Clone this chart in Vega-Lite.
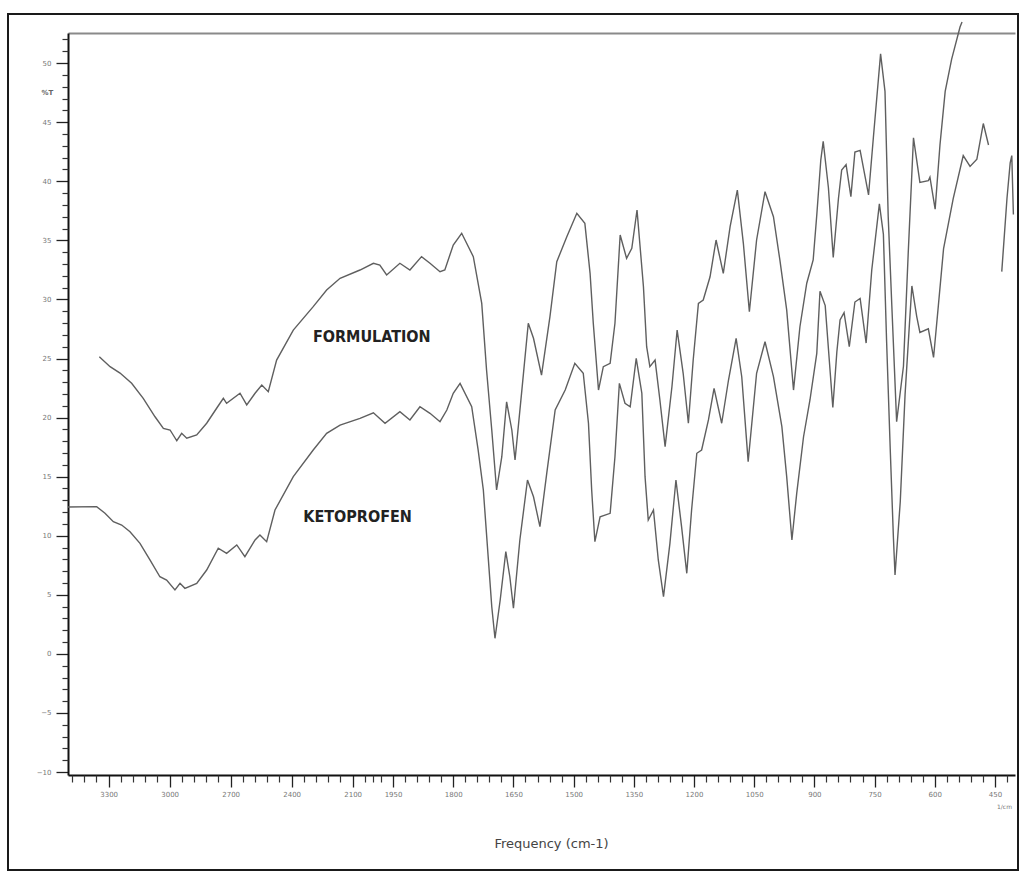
{
  "$schema": "https://vega.github.io/schema/vega-lite/v6.json",
  "width": 1010,
  "height": 856,
  "autosize": "none",
  "padding": {"left": 8, "top": 14, "right": 2, "bottom": 2},
  "background": "white",
  "config": {"view": {"stroke": "#1a1a1a", "strokeWidth": 2}},
  "datasets": {
    "spectra": [
      {"seg":"F1","wn":3346,"T":25.15},{"seg":"F1","wn":3293,"T":24.31},{"seg":"F1","wn":3244,"T":23.77},{"seg":"F1","wn":3187,"T":22.90},{"seg":"F1","wn":3130,"T":21.63},{"seg":"F1","wn":3072,"T":20.07},{"seg":"F1","wn":3031,"T":19.09},{"seg":"F1","wn":2998,"T":18.95},{"seg":"F1","wn":2965,"T":18.04},{"seg":"F1","wn":2941,"T":18.67},{"seg":"F1","wn":2916,"T":18.25},{"seg":"F1","wn":2867,"T":18.53},{"seg":"F1","wn":2818,"T":19.52},{"seg":"F1","wn":2769,"T":20.79},{"seg":"F1","wn":2736,"T":21.63},{"seg":"F1","wn":2720,"T":21.21},{"seg":"F1","wn":2654,"T":22.06},{"seg":"F1","wn":2621,"T":21.07},{"seg":"F1","wn":2580,"T":22.06},{"seg":"F1","wn":2547,"T":22.76},{"seg":"F1","wn":2515,"T":22.19},{"seg":"F1","wn":2474,"T":24.87},{"seg":"F1","wn":2392,"T":27.41},{"seg":"F1","wn":2294,"T":29.39},{"seg":"F1","wn":2228,"T":30.80},{"seg":"F1","wn":2162,"T":31.79},{"seg":"F1","wn":2064,"T":32.49},{"seg":"F1","wn":1999,"T":33.06},{"seg":"F1","wn":1983,"T":32.91},{"seg":"F1","wn":1966,"T":32.07},{"seg":"F1","wn":1933,"T":33.06},{"seg":"F1","wn":1908,"T":32.49},{"seg":"F1","wn":1879,"T":33.62},{"seg":"F1","wn":1858,"T":33.06},{"seg":"F1","wn":1833,"T":32.35},{"seg":"F1","wn":1821,"T":32.49},{"seg":"F1","wn":1800,"T":34.61},{"seg":"F1","wn":1779,"T":35.60},{"seg":"F1","wn":1750,"T":33.62},{"seg":"F1","wn":1729,"T":29.67},{"seg":"F1","wn":1717,"T":24.03},{"seg":"F1","wn":1704,"T":18.95},{"seg":"F1","wn":1692,"T":13.87},{"seg":"F1","wn":1679,"T":16.69},{"seg":"F1","wn":1667,"T":21.34},{"seg":"F1","wn":1654,"T":18.95},{"seg":"F1","wn":1646,"T":16.41},{"seg":"F1","wn":1629,"T":22.33},{"seg":"F1","wn":1613,"T":27.98},{"seg":"F1","wn":1600,"T":26.71},{"seg":"F1","wn":1580,"T":23.60},{"seg":"F1","wn":1559,"T":28.54},{"seg":"F1","wn":1542,"T":33.19},{"seg":"F1","wn":1517,"T":35.31},{"seg":"F1","wn":1492,"T":37.29},{"seg":"F1","wn":1472,"T":36.44},{"seg":"F1","wn":1459,"T":32.21},{"seg":"F1","wn":1451,"T":27.98},{"seg":"F1","wn":1438,"T":22.33},{"seg":"F1","wn":1426,"T":24.31},{"seg":"F1","wn":1409,"T":24.59},{"seg":"F1","wn":1397,"T":27.98},{"seg":"F1","wn":1384,"T":35.45},{"seg":"F1","wn":1368,"T":33.48},{"seg":"F1","wn":1355,"T":34.33},{"seg":"F1","wn":1342,"T":37.57},{"seg":"F1","wn":1326,"T":31.08},{"seg":"F1","wn":1318,"T":26.00},{"seg":"F1","wn":1310,"T":24.31},{"seg":"F1","wn":1297,"T":24.87},{"seg":"F1","wn":1285,"T":21.49},{"seg":"F1","wn":1272,"T":17.54},{"seg":"F1","wn":1255,"T":22.61},{"seg":"F1","wn":1242,"T":27.41},{"seg":"F1","wn":1227,"T":23.75},{"seg":"F1","wn":1214,"T":19.52},{"seg":"F1","wn":1202,"T":24.87},{"seg":"F1","wn":1189,"T":29.67},{"seg":"F1","wn":1177,"T":29.95},{"seg":"F1","wn":1160,"T":31.92},{"seg":"F1","wn":1145,"T":35.03},{"seg":"F1","wn":1127,"T":32.21},{"seg":"F1","wn":1110,"T":36.16},{"seg":"F1","wn":1092,"T":39.26},{"seg":"F1","wn":1077,"T":34.75},{"seg":"F1","wn":1062,"T":28.96},{"seg":"F1","wn":1044,"T":35.03},{"seg":"F1","wn":1023,"T":39.12},{"seg":"F1","wn":1002,"T":37.00},{"seg":"F1","wn":986,"T":33.34},{"seg":"F1","wn":969,"T":29.11},{"seg":"F1","wn":952,"T":22.33},{"seg":"F1","wn":936,"T":27.69},{"seg":"F1","wn":919,"T":31.37},{"seg":"F1","wn":903,"T":33.34},{"seg":"F1","wn":894,"T":37.15},{"seg":"F1","wn":884,"T":41.80},{"seg":"F1","wn":878,"T":43.38},{"seg":"F1","wn":865,"T":39.45},{"seg":"F1","wn":853,"T":33.56},{"seg":"F1","wn":840,"T":38.54},{"seg":"F1","wn":832,"T":40.95},{"seg":"F1","wn":821,"T":41.41},{"seg":"F1","wn":809,"T":38.70},{"seg":"F1","wn":799,"T":42.48},{"seg":"F1","wn":786,"T":42.62},{"seg":"F1","wn":765,"T":38.84},{"seg":"F1","wn":753,"T":43.68},{"seg":"F1","wn":735,"T":50.78},{"seg":"F1","wn":724,"T":47.61},{"seg":"F1","wn":716,"T":37.03},{"seg":"F1","wn":707,"T":29.48},{"seg":"F1","wn":695,"T":19.66},{"seg":"F1","wn":678,"T":24.34},{"seg":"F1","wn":666,"T":34.01},{"seg":"F1","wn":653,"T":43.68},{"seg":"F1","wn":637,"T":39.91},{"seg":"F1","wn":616,"T":40.05},{"seg":"F1","wn":612,"T":40.35},{"seg":"F1","wn":599,"T":37.64},{"seg":"F1","wn":587,"T":43.07},{"seg":"F1","wn":574,"T":47.61},{"seg":"F1","wn":558,"T":50.32},{"seg":"F1","wn":537,"T":53.05},{"seg":"F1","wn":532,"T":53.48},
      {"seg":"K1","wn":3500,"T":12.43},{"seg":"K1","wn":3359,"T":12.46},{"seg":"K1","wn":3318,"T":11.90},{"seg":"K1","wn":3277,"T":11.19},{"seg":"K1","wn":3236,"T":10.91},{"seg":"K1","wn":3195,"T":10.34},{"seg":"K1","wn":3146,"T":9.36},{"seg":"K1","wn":3097,"T":7.95},{"seg":"K1","wn":3048,"T":6.53},{"seg":"K1","wn":3015,"T":6.25},{"seg":"K1","wn":2974,"T":5.41},{"seg":"K1","wn":2949,"T":5.97},{"seg":"K1","wn":2925,"T":5.55},{"seg":"K1","wn":2867,"T":5.97},{"seg":"K1","wn":2818,"T":7.10},{"seg":"K1","wn":2761,"T":8.94},{"seg":"K1","wn":2720,"T":8.51},{"seg":"K1","wn":2670,"T":9.22},{"seg":"K1","wn":2630,"T":8.23},{"seg":"K1","wn":2580,"T":9.64},{"seg":"K1","wn":2556,"T":10.06},{"seg":"K1","wn":2523,"T":9.50},{"seg":"K1","wn":2482,"T":12.18},{"seg":"K1","wn":2392,"T":15.00},{"seg":"K1","wn":2294,"T":17.26},{"seg":"K1","wn":2228,"T":18.67},{"seg":"K1","wn":2162,"T":19.37},{"seg":"K1","wn":2064,"T":19.94},{"seg":"K1","wn":1999,"T":20.41},{"seg":"K1","wn":1970,"T":19.52},{"seg":"K1","wn":1933,"T":20.50},{"seg":"K1","wn":1908,"T":19.80},{"seg":"K1","wn":1883,"T":20.92},{"seg":"K1","wn":1858,"T":20.36},{"seg":"K1","wn":1833,"T":19.65},{"seg":"K1","wn":1816,"T":20.64},{"seg":"K1","wn":1800,"T":22.06},{"seg":"K1","wn":1783,"T":22.90},{"seg":"K1","wn":1754,"T":20.92},{"seg":"K1","wn":1738,"T":17.26},{"seg":"K1","wn":1725,"T":13.87},{"seg":"K1","wn":1713,"T":8.23},{"seg":"K1","wn":1704,"T":3.99},{"seg":"K1","wn":1696,"T":1.32},{"seg":"K1","wn":1683,"T":4.56},{"seg":"K1","wn":1669,"T":8.65},{"seg":"K1","wn":1659,"T":6.53},{"seg":"K1","wn":1650,"T":3.86},{"seg":"K1","wn":1634,"T":9.64},{"seg":"K1","wn":1615,"T":14.72},{"seg":"K1","wn":1600,"T":13.30},{"seg":"K1","wn":1584,"T":10.77},{"seg":"K1","wn":1567,"T":15.28},{"seg":"K1","wn":1546,"T":20.64},{"seg":"K1","wn":1521,"T":22.33},{"seg":"K1","wn":1497,"T":24.59},{"seg":"K1","wn":1476,"T":23.75},{"seg":"K1","wn":1463,"T":19.52},{"seg":"K1","wn":1455,"T":13.87},{"seg":"K1","wn":1447,"T":9.50},{"seg":"K1","wn":1434,"T":11.61},{"seg":"K1","wn":1409,"T":11.90},{"seg":"K1","wn":1397,"T":16.69},{"seg":"K1","wn":1386,"T":22.90},{"seg":"K1","wn":1372,"T":21.21},{"seg":"K1","wn":1359,"T":20.92},{"seg":"K1","wn":1344,"T":25.02},{"seg":"K1","wn":1330,"T":22.06},{"seg":"K1","wn":1322,"T":15.00},{"seg":"K1","wn":1314,"T":11.33},{"seg":"K1","wn":1301,"T":12.18},{"seg":"K1","wn":1289,"T":7.95},{"seg":"K1","wn":1276,"T":4.84},{"seg":"K1","wn":1260,"T":9.36},{"seg":"K1","wn":1245,"T":14.72},{"seg":"K1","wn":1231,"T":10.77},{"seg":"K1","wn":1218,"T":6.82},{"seg":"K1","wn":1206,"T":12.18},{"seg":"K1","wn":1193,"T":16.98},{"seg":"K1","wn":1181,"T":17.26},{"seg":"K1","wn":1164,"T":19.80},{"seg":"K1","wn":1150,"T":22.48},{"seg":"K1","wn":1131,"T":19.52},{"seg":"K1","wn":1114,"T":23.18},{"seg":"K1","wn":1095,"T":26.71},{"seg":"K1","wn":1081,"T":23.46},{"seg":"K1","wn":1065,"T":16.27},{"seg":"K1","wn":1044,"T":23.75},{"seg":"K1","wn":1023,"T":26.42},{"seg":"K1","wn":1002,"T":23.46},{"seg":"K1","wn":981,"T":19.23},{"seg":"K1","wn":969,"T":15.00},{"seg":"K1","wn":956,"T":9.64},{"seg":"K1","wn":944,"T":13.59},{"seg":"K1","wn":927,"T":18.38},{"seg":"K1","wn":911,"T":21.49},{"seg":"K1","wn":894,"T":25.44},{"seg":"K1","wn":886,"T":30.69},{"seg":"K1","wn":873,"T":29.48},{"seg":"K1","wn":861,"T":24.03},{"seg":"K1","wn":854,"T":20.86},{"seg":"K1","wn":844,"T":25.55},{"seg":"K1","wn":836,"T":28.26},{"seg":"K1","wn":826,"T":28.88},{"seg":"K1","wn":813,"T":26.00},{"seg":"K1","wn":799,"T":29.78},{"seg":"K1","wn":786,"T":30.08},{"seg":"K1","wn":771,"T":26.31},{"seg":"K1","wn":757,"T":32.49},{"seg":"K1","wn":738,"T":38.09},{"seg":"K1","wn":728,"T":35.52},{"seg":"K1","wn":720,"T":26.46},{"seg":"K1","wn":711,"T":17.39},{"seg":"K1","wn":703,"T":9.83},{"seg":"K1","wn":699,"T":6.68},{"seg":"K1","wn":686,"T":12.86},{"seg":"K1","wn":674,"T":21.92},{"seg":"K1","wn":663,"T":27.96},{"seg":"K1","wn":657,"T":31.14},{"seg":"K1","wn":645,"T":28.57},{"seg":"K1","wn":637,"T":27.21},{"seg":"K1","wn":616,"T":27.51},{"seg":"K1","wn":603,"T":25.09},{"seg":"K1","wn":591,"T":29.48},{"seg":"K1","wn":578,"T":34.31},{"seg":"K1","wn":554,"T":38.54},{"seg":"K1","wn":529,"T":42.17},{"seg":"K1","wn":512,"T":41.26},{"seg":"K1","wn":495,"T":41.87},{"seg":"K1","wn":479,"T":44.89},{"seg":"K1","wn":466,"T":43.07},
      {"seg":"K2","wn":433,"T":32.35},{"seg":"K2","wn":420,"T":38.54},{"seg":"K2","wn":412,"T":41.56},{"seg":"K2","wn":408,"T":42.17},{"seg":"K2","wn":404,"T":37.18}
    ],
    "labels": [
      {"wn": 2006, "T": 26.85, "label": "FORMULATION"},
      {"wn": 2076, "T": 11.61, "label": "KETOPROFEN"}
    ]
  },
  "layer": [
    {
      "data": {"name": "spectra"},
      "mark": {"type": "line", "color": "#5f5f5f", "strokeWidth": 1.4, "clip": false},
      "encoding": {
        "x": {
          "field": "wn", "type": "quantitative",
          "scale": {"type": "linear", "domain": [3500, 2000, 400], "range": [60, 365, 1007], "nice": false, "zero": false},
          "axis": {
            "orient": "bottom", "offset": -95,
            "values": [3300, 3000, 2700, 2400, 2100, 1950, 1800, 1650, 1500, 1350, 1200, 1050, 900, 750, 600, 450],
            "format": "d", "grid": false,
            "domainColor": "#111", "domainWidth": 2,
            "tickColor": "#222", "tickWidth": 1.3, "tickSize": 12,
            "labelFont": "DejaVu Sans", "labelFontSize": 7, "labelColor": "#777", "labelPadding": 3,
            "labelOverlap": false, "labelFlush": false,
            "title": "Frequency (cm-1)", "titleX": 543, "titleY": 68,
            "titleAlign": "center", "titleBaseline": "middle",
            "titleFont": "DejaVu Sans", "titleFontSize": 13, "titleFontWeight": "normal", "titleColor": "#444"
          }
        },
        "y": {
          "field": "T", "type": "quantitative",
          "scale": {"domain": [-10.25, 52.55], "range": [761, 19], "nice": false, "zero": false},
          "axis": {
            "orient": "left", "offset": -60,
            "values": [-10, -5, 0, 5, 10, 15, 20, 25, 30, 35, 40, 45, 50],
            "grid": false,
            "domainColor": "#111", "domainWidth": 2,
            "tickColor": "#222", "tickWidth": 1.3, "tickSize": 12,
            "labelFont": "DejaVu Sans", "labelFontSize": 7, "labelColor": "#777", "labelPadding": 5,
            "labelOverlap": false, "labelFlush": false,
            "title": "%T", "titleAngle": 0, "titleX": -21, "titleY": 78,
            "titleAlign": "center", "titleBaseline": "middle",
            "titleFont": "DejaVu Sans", "titleFontSize": 7, "titleFontWeight": "bold", "titleColor": "#666"
          }
        },
        "detail": {"field": "seg"}
      }
    },
    {
      "data": {"name": "labels"},
      "mark": {"type": "text", "font": "DejaVu Sans Condensed, Liberation Sans, sans-serif", "fontWeight": "bold", "fontSize": 16, "color": "#222", "align": "center", "baseline": "middle"},
      "encoding": {
        "x": {
          "field": "wn", "type": "quantitative",
          "scale": {"type": "linear", "domain": [3500, 2000, 400], "range": [60, 365, 1007], "nice": false, "zero": false},
          "axis": {
            "orient": "bottom", "offset": -95,
            "values": [3480, 3420, 3360, 3240, 3180, 3120, 3060, 2940, 2880, 2820, 2760, 2640, 2580, 2520, 2460, 2340, 2280, 2220, 2160, 2040, 2000, 1980, 1920, 1890, 1860, 1830, 1770, 1740, 1710, 1680, 1620, 1590, 1560, 1530, 1470, 1440, 1410, 1380, 1320, 1290, 1260, 1230, 1170, 1140, 1110, 1080, 1020, 990, 960, 930, 870, 840, 810, 780, 720, 690, 660, 630, 570, 540, 510, 480, 420],
            "grid": false, "domain": false, "labels": false,
            "tickColor": "#333", "tickWidth": 1.2, "tickSize": 7,
            "title": "1/cm", "titleX": 996, "titleY": 31,
            "titleAlign": "center", "titleBaseline": "middle",
            "titleFont": "DejaVu Sans", "titleFontSize": 6, "titleFontWeight": "normal", "titleColor": "#777"
          }
        },
        "y": {
          "field": "T", "type": "quantitative",
          "scale": {"domain": [-10.25, 52.55], "range": [761, 19], "nice": false, "zero": false},
          "axis": {
            "orient": "left", "offset": -60,
            "values": [-9, -8, -7, -6, -4, -3, -2, -1, 1, 2, 3, 4, 6, 7, 8, 9, 11, 12, 13, 14, 16, 17, 18, 19, 21, 22, 23, 24, 26, 27, 28, 29, 31, 32, 33, 34, 36, 37, 38, 39, 41, 42, 43, 44, 46, 47, 48, 49, 51, 52],
            "grid": false, "domain": false, "labels": false,
            "tickColor": "#333", "tickWidth": 1.2, "tickSize": 6,
            "title": null
          }
        },
        "text": {"field": "label"}
      }
    },
    {
      "data": {"values": []},
      "mark": {"type": "rule", "strokeOpacity": 0},
      "encoding": {
        "x": {
          "field": "wn", "type": "quantitative",
          "scale": {"type": "linear", "domain": [3500, 2000, 400], "range": [60, 365, 1007], "nice": false, "zero": false},
          "axis": {
            "orient": "top", "offset": -19,
            "grid": false, "ticks": false, "labels": false, "title": null,
            "domainColor": "#8a8a8a", "domainWidth": 2
          }
        }
      }
    }
  ],
  "resolve": {"axis": {"x": "independent", "y": "independent"}}
}
